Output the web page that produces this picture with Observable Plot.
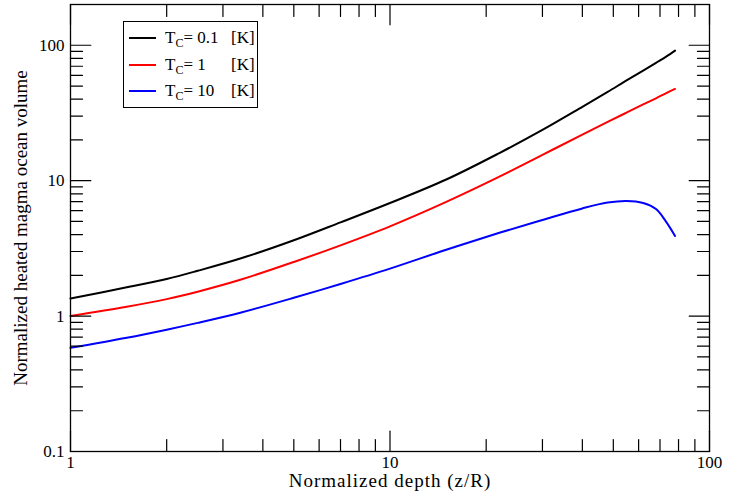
<!DOCTYPE html>
<html>
<head>
<meta charset="utf-8">
<script src="https://cdn.jsdelivr.net/npm/d3@7"></script>
<script src="https://cdn.jsdelivr.net/npm/@observablehq/plot@0.6"></script>
<style>
  html, body { margin: 0; padding: 0; background: #fff; }
  #wrap { position: relative; width: 741px; height: 501px; font-family: "Liberation Serif", "Times New Roman", serif; color: #000; }
  #wrap svg text { font-family: "Liberation Serif", "Times New Roman", serif; }
  #legend { position: absolute; left: 123px; top: 21px; width: 135px; height: 87px; box-sizing: border-box; border: 1px solid #000; background: #fff; }
  .row { position: absolute; left: 0; height: 20px; width: 100%; }
  .sw { position: absolute; left: 5px; width: 27px; height: 0; border-top: 2px solid; top: 9px; }
  .lab { position: absolute; left: 41px; top: 0; font-size: 17px; line-height: 20px; white-space: nowrap; }
  .lab sub { font-size: 12px; vertical-align: -4px; line-height: 0; }
  .unit { position: absolute; left: 107px; top: 0; font-size: 17px; line-height: 20px; }
</style>
</head>
<body>
<div id="wrap"></div>
<script>
// ---- data ----
const depth   = [1, 1.5, 2, 2.5, 3.4, 5, 7, 10, 15, 22, 30, 40, 48, 55, 62, 68, 73, 78];
const volTc01 = [1.35, 1.63, 1.88, 2.16, 2.66, 3.63, 4.92, 6.84, 10.2, 16.0, 23.7, 35.1, 45.2, 55.0, 65.0, 74.1, 82.0, 91.2];
const volTc1  = [1.0, 1.17, 1.334, 1.514, 1.854, 2.51, 3.33, 4.6, 6.97, 10.7, 15.5, 21.9, 27.2, 31.8, 36.6, 40.6, 44.2, 47.6];
const volTc10 = [0.583, 0.692, 0.794, 0.891, 1.059, 1.365, 1.726, 2.24, 3.09, 4.12, 5.13, 6.24, 6.89, 7.08, 6.84, 6.17, 5.01, 3.91];

const seriesNames  = ["0.1", "1", "10"];
const seriesColors = ["#000000", "#ff0000", "#0000ff"];

const xMajorTicks = [1, 10, 100];
const xMinorTicks = [2, 3, 4, 5, 6, 7, 8, 9, 20, 30, 40, 50, 60, 70, 80, 90];
const yMajorTicks = [0.1, 1, 10, 100];
const yMinorTicks = [0.2, 0.3, 0.4, 0.5, 0.6, 0.7, 0.8, 0.9, 2, 3, 4, 5, 6, 7, 8, 9, 20, 30, 40, 50, 60, 70, 80, 90];
const xDomain = [1, 100];
const yDomain = [0.1, 200];

const xTitle = "Normalized depth (z/R)";
const yTitle = "Normalized heated magma ocean volume";

const FONT = '"Liberation Serif", "Times New Roman", serif';

// ---- build tables ----
const allSeries = [volTc01, volTc1, volTc10];
const rows = allSeries.map((vals, i) => depth.map((d, j) => ({depth: d, volume: vals[j], series: seriesNames[i]})));

const tickLine = { draw(context, l) { context.moveTo(0, 0); context.lineTo(0, -l); } };
const MAJ = 11, MIN = 6.5;

function ticksMarks() {
  const m = [];
  const xt = [...xMajorTicks.map(v => ({v, L: MAJ})), ...xMinorTicks.map(v => ({v, L: MIN}))];
  const yt = [...yMajorTicks.map(v => ({v, L: MAJ})), ...yMinorTicks.map(v => ({v, L: MIN}))];
  const common = {anchor: "start", shape: tickLine, stroke: "#000", strokeWidth: 1.2, length: d => d.L};
  m.push(Plot.vector(xt, {...common, x: d => d.v, y: () => yDomain[0], rotate: 0}));
  m.push(Plot.vector(xt, {...common, x: d => d.v, y: () => yDomain[1], rotate: 180}));
  m.push(Plot.vector(yt, {...common, y: d => d.v, x: () => xDomain[0], rotate: 90}));
  m.push(Plot.vector(yt, {...common, y: d => d.v, x: () => xDomain[1], rotate: -90}));
  return m;
}

const chart = Plot.plot({
  width: 741,
  height: 501,
  marginLeft: 70,
  marginRight: 32,
  marginTop: 4,
  marginBottom: 50,
  style: {fontFamily: FONT, fontSize: "17px", color: "#000", background: "#fff"},
  x: {type: "log", domain: xDomain, axis: null},
  y: {type: "log", domain: yDomain, axis: null},
  marks: [
    ...rows.map((r, i) => Plot.line(r, {x: "depth", y: "volume", stroke: seriesColors[i], strokeWidth: 2, curve: "catmull-rom"})),
    ...ticksMarks(),
    Plot.frame({stroke: "#000", strokeWidth: 1.3}),
    Plot.axisX(xMajorTicks, {tickSize: 0, tickPadding: 4, tickFormat: d => String(d), label: null, fontSize: 17, fontFamily: FONT}),
    Plot.axisY(yMajorTicks, {tickSize: 0, tickPadding: 6, tickFormat: d => String(d), label: null, fontSize: 17, fontFamily: FONT}),
    Plot.text([xTitle], {frameAnchor: "bottom", lineAnchor: "middle", textAnchor: "middle", dy: 29, fontSize: 19, fontFamily: FONT, text: d => d, fill: "#000", style: {letterSpacing: "1px"}}),
    Plot.text([yTitle], {frameAnchor: "left", lineAnchor: "middle", textAnchor: "middle", dx: -50, rotate: -90, fontSize: 19, fontFamily: FONT, text: d => d, fill: "#000"})
  ]
});

const wrap = document.getElementById("wrap");
wrap.appendChild(chart);
// letter spacing for the x title (applied to the rendered text node)
d3.select(chart).selectAll("text").filter(function() { return this.textContent === xTitle; }).style("letter-spacing", "1px");

// legend
const legend = document.createElement("div");
legend.id = "legend";
const rowTops = [16, 42.5, 69];
seriesNames.forEach((name, i) => {
  const r = document.createElement("div");
  r.className = "row";
  r.style.top = (rowTops[i] - 10) + "px";
  const sw = document.createElement("div");
  sw.className = "sw";
  sw.style.borderColor = seriesColors[i];
  const lab = document.createElement("div");
  lab.className = "lab";
  lab.innerHTML = "T<sub>C</sub>= " + name;
  const unit = document.createElement("div");
  unit.className = "unit";
  unit.textContent = "[K]";
  r.appendChild(sw); r.appendChild(lab); r.appendChild(unit);
  legend.appendChild(r);
});
wrap.appendChild(legend);
</script>
</body>
</html>
